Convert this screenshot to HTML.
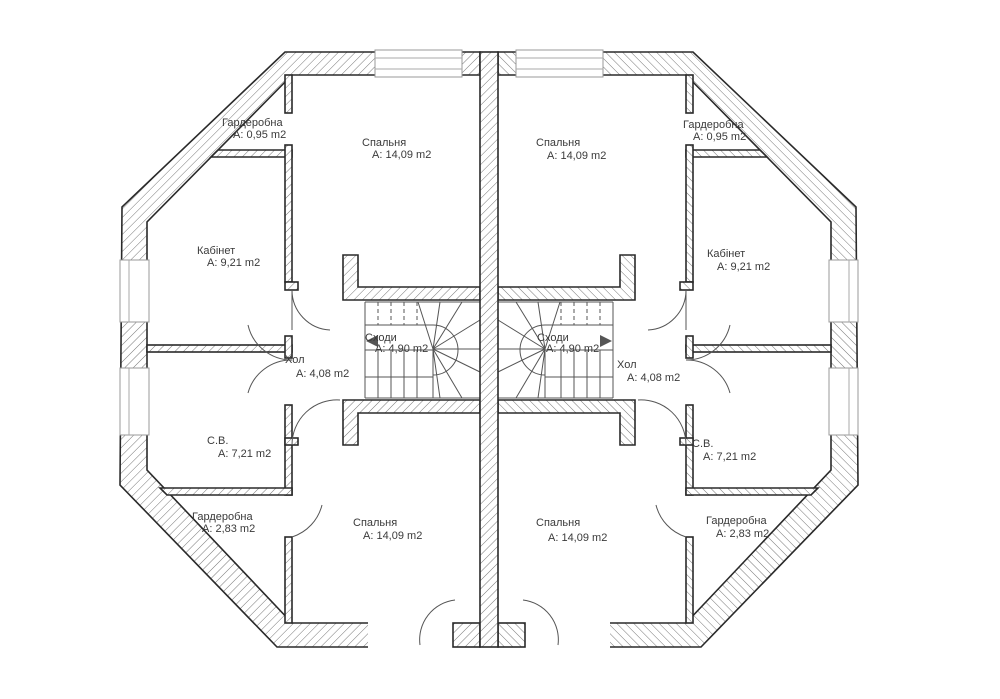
<!DOCTYPE html>
<html><head><meta charset="utf-8"><style>
html,body{margin:0;padding:0;background:#fff;}
svg{display:block;}
text{font-family:"Liberation Sans",sans-serif;font-size:11px;fill:#3a3a3a;}
</style></head><body>
<svg width="1000" height="699" viewBox="0 0 1000 699" xmlns="http://www.w3.org/2000/svg">
<defs>
<pattern id="h" width="6" height="6" patternUnits="userSpaceOnUse" patternTransform="rotate(45)">
<rect width="6" height="6" fill="#fff"/><line x1="0" y1="0" x2="0" y2="6" stroke="#777" stroke-width="1"/>
</pattern>
<g id="half" stroke="#2a2a2a" stroke-width="1.6" fill="url(#h)">
<path d="M480,52 L285,52 L122,207 L120,485 L277,647 L370,647 L370,623 L292,623 L147,470 L147,222 L292,75 L480,75 Z"/>
<rect x="375" y="50" width="87" height="27" fill="#fff" stroke="#999" stroke-width="1"/>
<line x1="375" y1="58" x2="462" y2="58" stroke="#aaa" stroke-width="1"/>
<line x1="375" y1="69" x2="462" y2="69" stroke="#aaa" stroke-width="1"/>
<rect x="120" y="260" width="29" height="62" fill="#fff" stroke="#999" stroke-width="1"/>
<rect x="120" y="368" width="29" height="67" fill="#fff" stroke="#999" stroke-width="1"/>
<line x1="129" y1="260" x2="129" y2="322" stroke="#aaa" stroke-width="1"/>
<line x1="129" y1="368" x2="129" y2="435" stroke="#aaa" stroke-width="1"/>
<rect x="368" y="621" width="87" height="28" fill="#fff" stroke="none"/>
<rect x="453" y="623" width="27" height="24"/>
<rect x="285" y="75" width="7" height="38"/>
<polygon points="218,150 292,150 292,157 211,157"/>
<rect x="285" y="145" width="7" height="137"/>
<rect x="285" y="282" width="13" height="8"/>
<rect x="147" y="345" width="145" height="7"/>
<rect x="285" y="336" width="7" height="22"/>
<rect x="285" y="405" width="7" height="90"/>
<rect x="285" y="438" width="13" height="7"/>
<polygon points="160,488 292,488 292,495 167,495"/>
<rect x="285" y="537" width="7" height="86"/>
<path d="M343,255 L358,255 L358,287 L480,287 L480,300 L343,300 Z"/>
<path d="M343,400 L480,400 L480,413 L358,413 L358,445 L343,445 Z"/>
<g fill="none" stroke="#555" stroke-width="1">
<path d="M292,290 A40,40 0 0 0 330,330"/>
<path d="M292,290 L292,330"/>
<path d="M292,360 A45,45 0 0 1 248,325"/>
<path d="M292,360 A45,45 0 0 0 248,393"/>
<path d="M292,445 A45,45 0 0 1 340,400"/>
<path d="M292,537 A45,45 0 0 0 322,505"/>
<path d="M455,600 A40,40 0 0 0 420,645"/>
<line x1="365" y1="302" x2="480" y2="302"/>
<line x1="365" y1="398" x2="480" y2="398"/>
<line x1="365" y1="350" x2="433" y2="350"/>
<line x1="365" y1="377" x2="433" y2="377"/>
<line x1="365" y1="302" x2="365" y2="398"/>
<path d="M378,350V398M391,350V398M404,350V398M417,350V398M433,350V398"/>
<path d="M378,302V325M391,302V325M404,302V325M417,302V325" stroke-dasharray="4,3"/>
<path d="M433,325 A25,25 0 0 1 433,375"/>
<path d="M433,349 L418,302 M433,349 L440,302 M433,349 L462,302 M433,349 L480,320 M433,349 L480,349 M433,349 L480,372 M433,349 L462,398 M433,349 L440,398"/>
<line x1="365" y1="325" x2="433" y2="325"/>
</g>
</g>
</defs>
<use href="#half"/>
<use href="#half" transform="matrix(-1 0 0 1 978 0)"/>
<rect x="480" y="52" width="18" height="595" fill="url(#h)" stroke="#2a2a2a" stroke-width="1.6"/>
<polygon points="366,341 378,335 378,347" fill="#555"/>
<polygon points="612,341 600,335 600,347" fill="#555"/>
<text x="222" y="126">Гардеробна</text><text x="233" y="138">A: 0,95 m2</text>
<text x="362" y="146">Спальня</text><text x="372" y="158">A: 14,09 m2</text>
<text x="197" y="254">Кабінет</text><text x="207" y="266">A: 9,21 m2</text>
<text x="365" y="341">Сходи</text><text x="375" y="352">A: 4,90 m2</text>
<text x="285" y="363">Хол</text><text x="296" y="377">A: 4,08 m2</text>
<text x="207" y="444">С.В.</text><text x="218" y="457">A: 7,21 m2</text>
<text x="192" y="520">Гардеробна</text><text x="202" y="532">A: 2,83 m2</text>
<text x="353" y="526">Спальня</text><text x="363" y="539">A: 14,09 m2</text>
<text x="683" y="128">Гардеробна</text><text x="693" y="140">A: 0,95 m2</text>
<text x="536" y="146">Спальня</text><text x="547" y="159">A: 14,09 m2</text>
<text x="707" y="257">Кабінет</text><text x="717" y="270">A: 9,21 m2</text>
<text x="537" y="341">Сходи</text><text x="546" y="352">A: 4,90 m2</text>
<text x="617" y="368">Хол</text><text x="627" y="381">A: 4,08 m2</text>
<text x="692" y="447">С.В.</text><text x="703" y="460">A: 7,21 m2</text>
<text x="706" y="524">Гардеробна</text><text x="716" y="537">A: 2,83 m2</text>
<text x="536" y="526">Спальня</text><text x="548" y="541">A: 14,09 m2</text>
</svg>
</body></html>
